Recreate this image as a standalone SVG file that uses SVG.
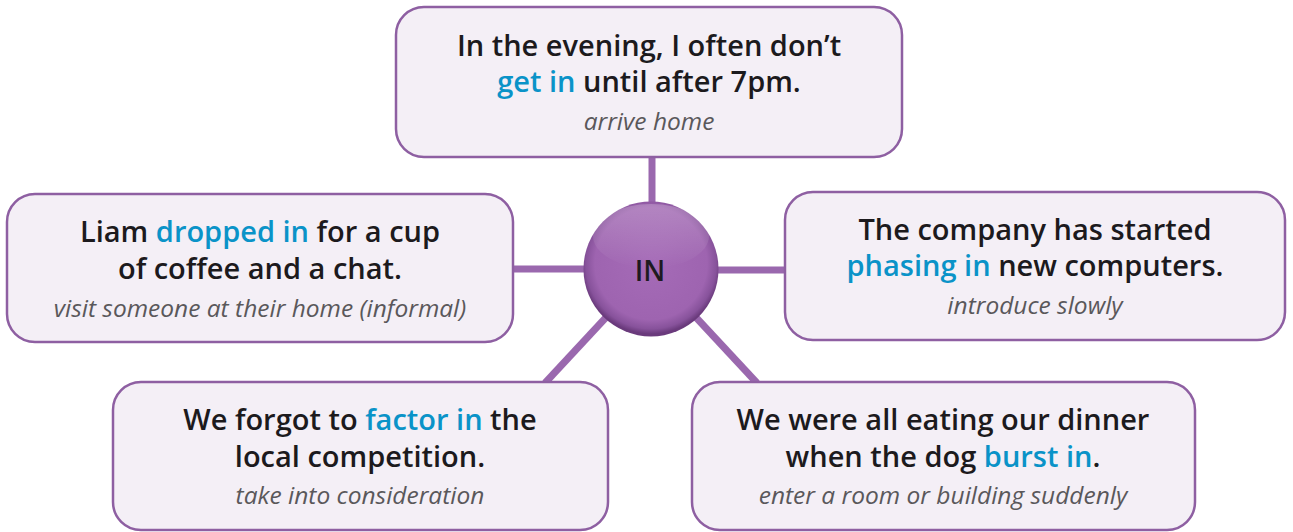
<svg xmlns="http://www.w3.org/2000/svg" width="1293" height="532" viewBox="0 0 1293 532">
<style>
.box{fill:#f4eff6;stroke:#8e5fa2;stroke-width:2.5}
.main{font-family:"Open Sans","Noto Sans",sans-serif;font-weight:600;font-size:29px;fill:#1c1a1d;text-anchor:middle}
.hl{fill:#0a93c8}
.def{font-family:"Open Sans","Noto Sans",sans-serif;font-style:italic;font-size:24.5px;fill:#5a585b;text-anchor:middle}
.conn{stroke:#9a68ae;stroke-width:7;fill:none}
.hub{font-family:"Open Sans","Noto Sans",sans-serif;font-weight:600;font-size:28px;fill:#1e1a20;text-anchor:middle}
</style>
<defs>
<radialGradient id="ballFill" cx="50%" cy="46%" r="52%">
<stop offset="0%" stop-color="#a56bb7"/>
<stop offset="80%" stop-color="#9e64b0"/>
<stop offset="93%" stop-color="#87529b"/>
<stop offset="100%" stop-color="#6a3a7c"/>
</radialGradient>
<linearGradient id="ballHi" x1="0" y1="0" x2="0" y2="1">
<stop offset="0%" stop-color="#ffffff" stop-opacity="0.22"/>
<stop offset="100%" stop-color="#ffffff" stop-opacity="0"/>
</linearGradient>
</defs>
<rect width="1293" height="532" fill="#ffffff"/>
<g id="connectors">
<line class="conn" x1="652" y1="155" x2="652" y2="215"/>
<line class="conn" x1="512" y1="269" x2="600" y2="269"/>
<line class="conn" x1="700" y1="270" x2="786" y2="270"/>
<line class="conn" x1="651" y1="269" x2="545" y2="383"/>
<line class="conn" x1="651" y1="269" x2="757" y2="383"/>
</g>
<g id="hub">
<circle cx="651" cy="269" r="67.5" fill="url(#ballFill)"/>
<ellipse cx="651" cy="236" rx="58" ry="32" fill="url(#ballHi)"/>
<text class="hub" x="650" y="281">IN</text>
</g>
<g id="node-get-in">
<rect class="box" x="396" y="7" width="506" height="150" rx="28"/>
<text class="main" x="649" y="56">In the evening, I often don’t</text>
<text class="main" x="649" y="92"><tspan class="hl">get in</tspan> until after 7pm.</text>
<text class="def" x="649" y="130">arrive home</text>
</g>
<g id="node-dropped-in">
<rect class="box" x="7" y="194" width="506" height="148" rx="28"/>
<text class="main" x="260" y="242">Liam <tspan class="hl">dropped in</tspan> for a cup</text>
<text class="main" x="260" y="279">of coffee and a chat.</text>
<text class="def" x="260" y="317">visit someone at their home (informal)</text>
</g>
<g id="node-phasing-in">
<rect class="box" x="785" y="192" width="500" height="148" rx="28"/>
<text class="main" x="1035" y="240">The company has started</text>
<text class="main" x="1035" y="276"><tspan class="hl">phasing in</tspan> new computers.</text>
<text class="def" x="1035" y="314">introduce slowly</text>
</g>
<g id="node-factor-in">
<rect class="box" x="113" y="382" width="495" height="148" rx="28"/>
<text class="main" x="360" y="430">We forgot to <tspan class="hl">factor in</tspan> the</text>
<text class="main" x="360" y="467">local competition.</text>
<text class="def" x="360" y="504">take into consideration</text>
</g>
<g id="node-burst-in">
<rect class="box" x="692" y="382" width="503" height="148" rx="28"/>
<text class="main" x="943" y="430">We were all eating our dinner</text>
<text class="main" x="943" y="467">when the dog <tspan class="hl">burst in</tspan>.</text>
<text class="def" x="943" y="504">enter a room or building suddenly</text>
</g>
</svg>
